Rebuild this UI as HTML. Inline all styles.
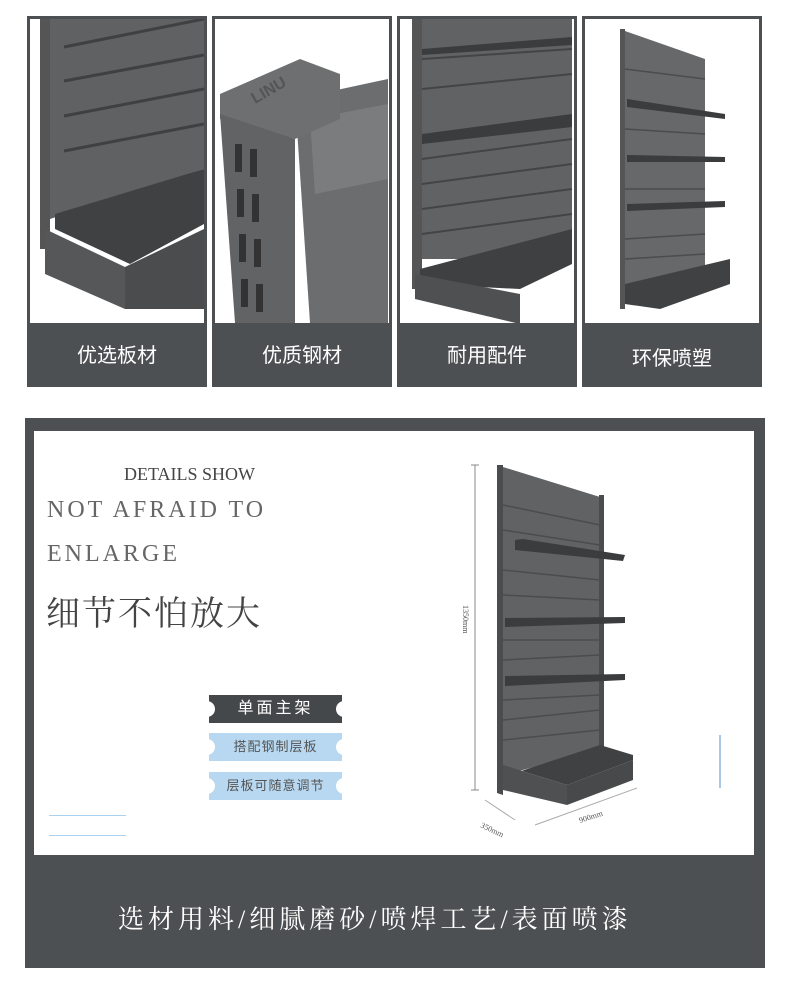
<!DOCTYPE html>
<html><head><meta charset="utf-8"><style>
*{margin:0;padding:0;box-sizing:border-box}
body{width:790px;height:1004px;background:#fff;position:relative;overflow:hidden;font-family:"Liberation Sans","Noto Sans CJK SC",sans-serif}
.p{position:absolute;top:16px;width:180px;height:371px;background:#4d5052;padding:3px}
.p .img{position:absolute;left:3px;top:3px;right:3px;height:304px;background:#fff;overflow:hidden}
.p .lab{position:absolute;left:0;right:0;top:310px;height:61px;color:#fff;font-size:20px;text-align:center;line-height:61px}
.abs{position:absolute}
.tag{position:absolute;left:209px;width:133px;height:28px;text-align:center;line-height:28px}
.tag:before,.tag:after{content:"";position:absolute;top:6px;width:16px;height:16px;border-radius:50%;background:#fff}
.tag:before{left:-10px}.tag:after{right:-10px}
</style></head><body>

<div class="p" style="left:27px"><div class="img"><svg width="174" height="304">
<rect x="10" y="0" width="10" height="230" fill="#555"/>
<polygon points="20,0 174,0 174,150 20,200" fill="#5f6163"/>
<g stroke="#3e4042" stroke-width="3"><line x1="34" y1="28" x2="174" y2="0"/><line x1="34" y1="62" x2="174" y2="36"/><line x1="34" y1="97" x2="174" y2="70"/><line x1="34" y1="132" x2="174" y2="105"/></g>
<polygon points="25,195 174,150 174,205 100,245 25,210" fill="#3f4143"/>
<polygon points="15,210 95,248 95,290 15,255" fill="#555759"/>
<polygon points="95,248 174,210 174,290 95,290" fill="#4a4c4e"/>
</svg></div><div class="lab">优选板材</div></div>

<div class="p" style="left:212px"><div class="img"><svg width="173" height="304">
<polygon points="80,80 173,60 173,304 95,304" fill="#6b6d6f"/>
<polygon points="95,100 173,85 173,160 100,175" fill="#7a7c7e"/>
<polygon points="5,75 85,40 125,55 125,100 80,120 5,100" fill="#6d6f71"/>
<polygon points="5,95 80,120 80,304 20,304" fill="#616365"/>
<text x="40" y="85" fill="#555" font-size="16" font-weight="bold" transform="rotate(-30 40 85)">LINU</text>
<g fill="#333"><rect x="20" y="125" width="7" height="28"/><rect x="35" y="130" width="7" height="28"/><rect x="22" y="170" width="7" height="28"/><rect x="37" y="175" width="7" height="28"/><rect x="24" y="215" width="7" height="28"/><rect x="39" y="220" width="7" height="28"/><rect x="26" y="260" width="7" height="28"/><rect x="41" y="265" width="7" height="28"/></g>
</svg></div><div class="lab">优质钢材</div></div>

<div class="p" style="left:397px"><div class="img"><svg width="174" height="304">
<rect x="12" y="0" width="10" height="270" fill="#555"/>
<rect x="22" y="0" width="150" height="240" fill="#606264"/>
<g stroke="#444" stroke-width="2"><line x1="22" y1="40" x2="172" y2="30"/><line x1="22" y1="70" x2="172" y2="55"/><line x1="22" y1="140" x2="172" y2="120"/><line x1="22" y1="165" x2="172" y2="145"/><line x1="22" y1="190" x2="172" y2="170"/><line x1="22" y1="215" x2="172" y2="195"/></g>
<polygon points="22,30 172,18 172,26 22,36" fill="#3a3c3e"/>
<polygon points="22,115 172,95 172,108 22,125" fill="#3a3c3e"/>
<polygon points="20,250 172,210 172,245 120,270 20,265" fill="#3e4042"/>
<polygon points="15,255 120,275 120,305 15,280" fill="#4e5052"/>
</svg></div><div class="lab">耐用配件</div></div>

<div class="p" style="left:582px"><div class="img"><svg width="174" height="304">
<rect x="35" y="10" width="5" height="280" fill="#555"/>
<polygon points="40,12 120,40 120,260 40,280" fill="#666869"/>
<g stroke="#4a4c4e" stroke-width="1.5"><line x1="40" y1="50" x2="120" y2="60"/><line x1="40" y1="110" x2="120" y2="115"/><line x1="40" y1="170" x2="120" y2="170"/><line x1="40" y1="220" x2="120" y2="215"/><line x1="40" y1="240" x2="120" y2="235"/></g>
<polygon points="42,80 140,95 140,100 42,88" fill="#3a3c3e"/>
<polygon points="42,136 140,138 140,143 42,143" fill="#3a3c3e"/>
<polygon points="42,185 140,182 140,188 42,192" fill="#3a3c3e"/>
<polygon points="40,265 145,240 145,265 75,290 40,285" fill="#3f4143"/>
</svg></div><div class="lab" style="top:313px">环保喷塑</div></div>

<div class="abs" style="left:25px;top:418px;width:740px;height:550px;background:#4d5052"></div>
<div class="abs" style="left:34px;top:431px;width:720px;height:424px;background:#fff"></div>

<div class="abs" style="left:124px;top:464px;font-family:'Liberation Serif',serif;font-size:18px;color:#444">DETAILS SHOW</div>
<div class="abs" style="left:47px;top:497px;font-family:'Liberation Serif',serif;font-size:24px;color:#666;letter-spacing:3px">NOT AFRAID TO</div>
<div class="abs" style="left:47px;top:541px;font-family:'Liberation Serif',serif;font-size:24px;color:#666;letter-spacing:3px">ENLARGE</div>
<div class="abs" style="left:46px;top:586px;font-family:'Liberation Serif','Noto Serif CJK SC',serif;font-size:34px;color:#444;letter-spacing:2px">细节不怕放大</div>

<div class="tag" style="top:695px;background:#45484b;color:#fff;font-size:16px;letter-spacing:3px">单面主架</div>
<div class="tag" style="top:733px;background:#b7d8f0;color:#555;font-size:13px;letter-spacing:1px">搭配钢制层板</div>
<div class="tag" style="top:772px;background:#b7d8f0;color:#555;font-size:13px;letter-spacing:1px">层板可随意调节</div>

<div class="abs" style="left:49px;top:815px;width:77px;height:1px;background:#a9d2f0"></div>
<div class="abs" style="left:49px;top:835px;width:77px;height:1px;background:#a9d2f0"></div>
<div class="abs" style="left:719px;top:735px;width:2px;height:53px;background:#a9c8e6"></div>

<svg class="abs" style="left:455px;top:455px" width="200" height="390">
<line x1="20" y1="10" x2="20" y2="335" stroke="#888"/><line x1="16" y1="10" x2="24" y2="10" stroke="#888"/><line x1="16" y1="335" x2="24" y2="335" stroke="#888"/>
<text x="8" y="150" font-size="8" fill="#555" transform="rotate(90 8 150)" font-family="Liberation Serif">1350mm</text>
<line x1="30" y1="345" x2="60" y2="365" stroke="#aaa"/>
<line x1="80" y1="370" x2="182" y2="333" stroke="#aaa"/>
<text x="25" y="372" font-size="8" fill="#555" transform="rotate(25 25 372)" font-family="Liberation Serif">350mm</text>
<text x="125" y="368" font-size="8" fill="#555" transform="rotate(-18 125 368)" font-family="Liberation Serif">900mm</text>
<polygon points="42,10 48,10 48,340 42,338" fill="#4a4c4e"/>
<polygon points="48,12 145,42 145,295 48,320" fill="#606264"/>
<rect x="144" y="40" width="5" height="262" fill="#4a4c4e"/>
<g stroke="#4a4c4e" stroke-width="1.5">
<line x1="48" y1="50" x2="145" y2="70"/><line x1="48" y1="75" x2="145" y2="90"/><line x1="48" y1="115" x2="145" y2="125"/><line x1="48" y1="140" x2="145" y2="145"/><line x1="48" y1="185" x2="145" y2="185"/><line x1="48" y1="205" x2="145" y2="200"/><line x1="48" y1="245" x2="145" y2="240"/><line x1="48" y1="265" x2="145" y2="255"/><line x1="48" y1="285" x2="145" y2="275"/></g>
<polygon points="60,85 68,84 170,100 168,106 60,95" fill="#3a3c3e"/>
<polygon points="50,163 170,162 170,168 50,172" fill="#3a3c3e"/>
<polygon points="50,221 170,219 170,225 50,231" fill="#3a3c3e"/>
<polygon points="48,322 145,290 178,300 178,305 112,330 48,310" fill="#3f4143"/>
<polygon points="48,310 112,330 112,350 48,335" fill="#4e5052"/>
<polygon points="112,330 178,305 178,325 112,350" fill="#47494b"/>
</svg>

<div class="abs" style="left:118px;top:899px;color:#fff;font-size:26px;letter-spacing:4px;font-family:'Liberation Serif','Noto Serif CJK SC',serif;white-space:nowrap">选材用料/细腻磨砂/喷焊工艺/表面喷漆</div>
</body></html>
